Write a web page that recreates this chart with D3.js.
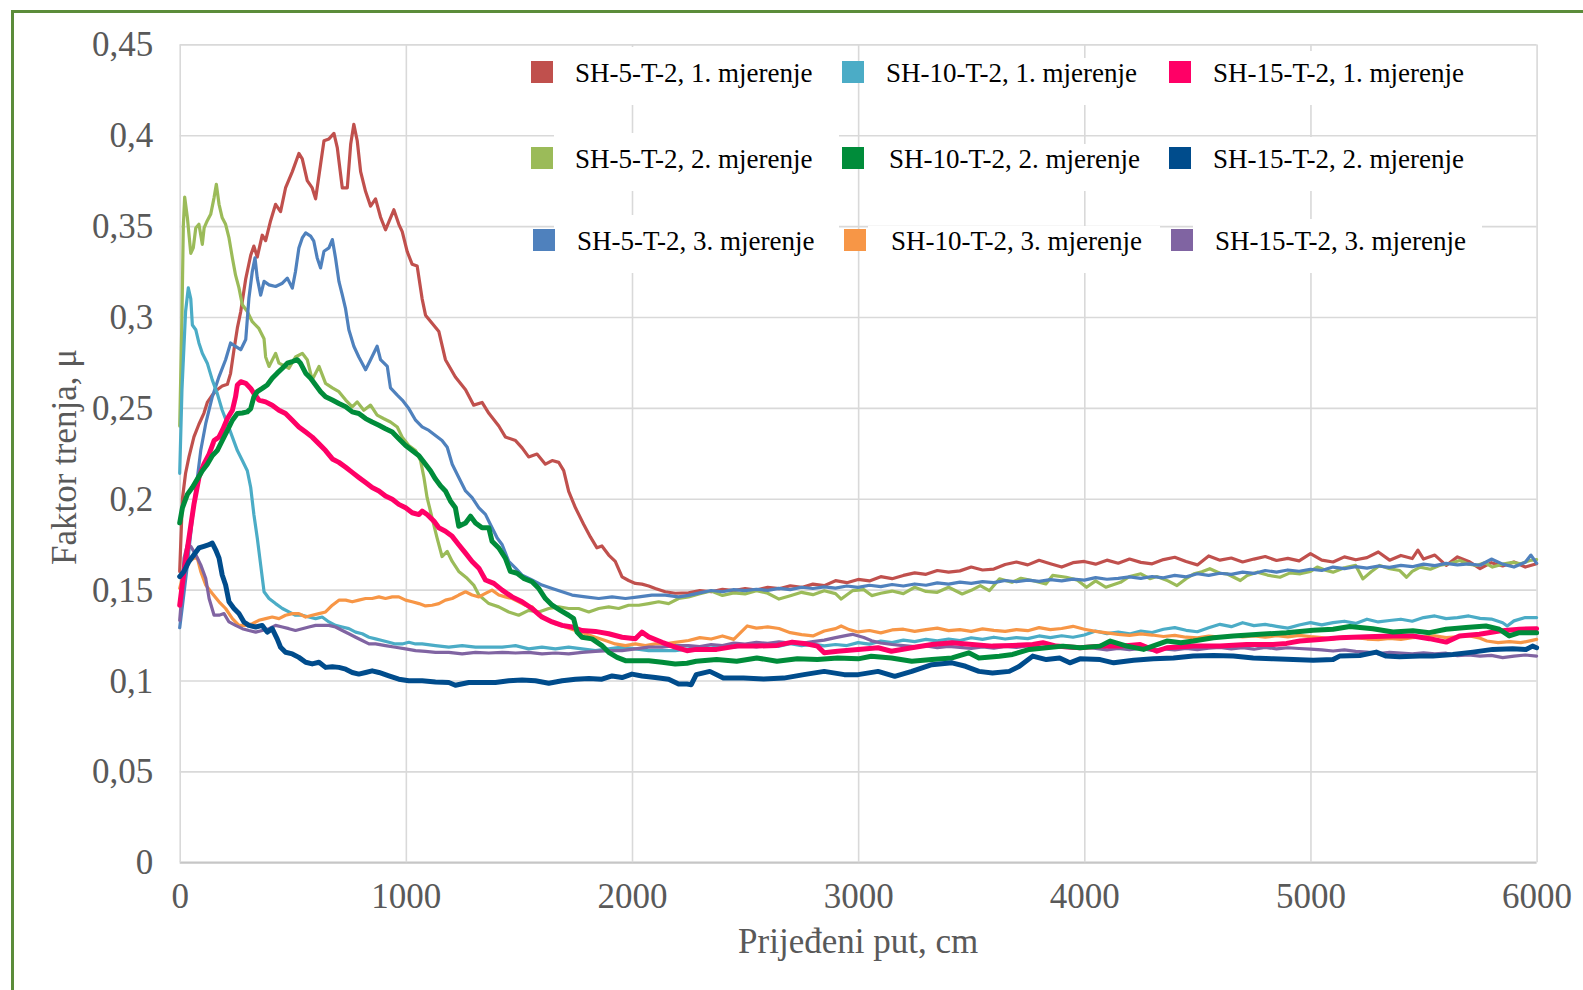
<!DOCTYPE html>
<html>
<head>
<meta charset="utf-8">
<script src="https://cdn.jsdelivr.net/npm/d3@7"></script>
<style>
  html, body { margin: 0; padding: 0; background: #ffffff; }
  svg { display: block; }
</style>
</head>
<body>
<svg id="chart" width="1583" height="990"></svg>
<script>
// ---------- DATA (distance in cm, friction factor µ) ----------
const xTicks = [0, 1000, 2000, 3000, 4000, 5000, 6000];
const yTicks = [0, 0.05, 0.1, 0.15, 0.2, 0.25, 0.3, 0.35, 0.4, 0.45];
const xTitle = "Prijeđeni put, cm";
const yTitle = "Faktor trenja, μ";

const sh5_1 = [[0,0.160],[12,0.200],[26,0.214],[41,0.223],[63,0.234],[85,0.241],[107,0.247],[122,0.253],[144,0.257],[166,0.260],[188,0.262],[211,0.263],[225,0.269],[240,0.282],[255,0.294],[270,0.303],[292,0.321],[314,0.334],[328,0.339],[343,0.333],[365,0.345],[380,0.342],[402,0.353],[424,0.362],[446,0.358],[468,0.371],[498,0.380],[527,0.390],[542,0.387],[564,0.375],[586,0.371],[601,0.365],[623,0.384],[638,0.397],[660,0.398],[682,0.401],[697,0.393],[719,0.371],[741,0.371],[756,0.395],[770,0.406],[785,0.397],[800,0.380],[822,0.369],[844,0.361],[866,0.365],[888,0.355],[910,0.348],[947,0.359],[969,0.351],[984,0.347],[1006,0.336],[1028,0.329],[1050,0.328],[1072,0.310],[1087,0.301],[1116,0.2965],[1146,0.292],[1175,0.2765],[1219,0.267],[1264,0.260],[1300,0.2515],[1337,0.253],[1367,0.247],[1411,0.240],[1440,0.234],[1485,0.232],[1514,0.228],[1543,0.223],[1580,0.2246],[1617,0.219],[1647,0.221],[1676,0.220],[1698,0.2155],[1720,0.204],[1750,0.195],[1786,0.186],[1816,0.179],[1845,0.173],[1867,0.174],[1897,0.169],[1926,0.1655],[1956,0.157],[1985,0.155],[2015,0.1534],[2044,0.153],[2074,0.152],[2103,0.1506],[2147,0.1488],[2191,0.148],[2250,0.1482],[2300,0.1495],[2350,0.1488],[2400,0.1502],[2450,0.1494],[2500,0.1506],[2550,0.1498],[2600,0.1512],[2650,0.1505],[2700,0.1521],[2750,0.1512],[2800,0.1530],[2850,0.1522],[2900,0.1549],[2950,0.1538],[3000,0.1556],[3050,0.1548],[3100,0.1571],[3150,0.1560],[3200,0.1578],[3250,0.1592],[3300,0.1584],[3350,0.1605],[3400,0.1596],[3450,0.1603],[3500,0.1624],[3550,0.1608],[3600,0.1613],[3650,0.1638],[3700,0.1652],[3750,0.1636],[3800,0.1661],[3850,0.1642],[3900,0.1624],[3950,0.1648],[4000,0.1655],[4050,0.1640],[4100,0.1662],[4150,0.1645],[4200,0.1668],[4250,0.1650],[4300,0.1642],[4350,0.1665],[4400,0.1678],[4450,0.1655],[4500,0.1636],[4550,0.1685],[4600,0.1662],[4650,0.1674],[4700,0.1652],[4750,0.1668],[4800,0.1682],[4850,0.1660],[4900,0.1672],[4950,0.1658],[5000,0.1698],[5050,0.1662],[5100,0.1652],[5150,0.1680],[5200,0.1664],[5250,0.1676],[5300,0.1707],[5350,0.1662],[5400,0.1688],[5450,0.1671],[5475,0.1717],[5500,0.1668],[5550,0.1690],[5600,0.1633],[5650,0.1680],[5700,0.1655],[5750,0.1615],[5800,0.1648],[5850,0.1630],[5900,0.1652],[5950,0.1624],[6000,0.1642]];

const sh5_2 = [[0,0.240],[10,0.300],[16,0.350],[22,0.366],[34,0.3546],[49,0.335],[60,0.338],[71,0.349],[85,0.351],[100,0.340],[108,0.349],[122,0.353],[137,0.3565],[152,0.3657],[162,0.373],[174,0.362],[188,0.3546],[203,0.351],[218,0.3435],[233,0.3325],[247,0.323],[262,0.316],[277,0.3067],[299,0.303],[321,0.2974],[350,0.2937],[373,0.288],[380,0.278],[395,0.2728],[424,0.280],[439,0.2746],[483,0.2718],[512,0.278],[542,0.280],[564,0.2765],[586,0.2654],[616,0.2728],[645,0.2635],[675,0.261],[704,0.2589],[734,0.2543],[763,0.2506],[785,0.2533],[814,0.2487],[844,0.2515],[873,0.246],[903,0.244],[932,0.2422],[962,0.2395],[984,0.2339],[1013,0.2293],[1043,0.2265],[1065,0.221],[1080,0.2117],[1094,0.2006],[1116,0.1895],[1138,0.1784],[1160,0.1682],[1183,0.171],[1205,0.1655],[1234,0.160],[1271,0.1562],[1300,0.1525],[1323,0.147],[1367,0.1423],[1411,0.1405],[1455,0.1377],[1499,0.1359],[1543,0.1386],[1588,0.1377],[1632,0.1396],[1676,0.1405],[1720,0.1396],[1764,0.1396],[1809,0.1377],[1853,0.1396],[1897,0.1405],[1941,0.1396],[1985,0.1414],[2030,0.1414],[2074,0.1423],[2118,0.1433],[2162,0.1423],[2206,0.1451],[2250,0.1460],[2300,0.1478],[2350,0.1492],[2400,0.1468],[2450,0.1482],[2500,0.1476],[2550,0.1494],[2600,0.1480],[2650,0.1448],[2700,0.1466],[2750,0.1485],[2800,0.1472],[2850,0.1494],[2900,0.1478],[2925,0.1448],[2975,0.1494],[3025,0.1500],[3060,0.1467],[3100,0.1480],[3150,0.1492],[3200,0.1478],[3250,0.1513],[3300,0.1490],[3350,0.1485],[3400,0.1513],[3460,0.1476],[3500,0.1496],[3540,0.1522],[3580,0.1494],[3625,0.1559],[3680,0.1540],[3720,0.1562],[3770,0.1550],[3830,0.1531],[3860,0.1578],[3920,0.1568],[3970,0.1552],[4010,0.1513],[4050,0.1548],[4095,0.1513],[4160,0.1540],[4200,0.1572],[4250,0.1587],[4290,0.1560],[4320,0.1572],[4370,0.1548],[4410,0.1522],[4450,0.1560],[4485,0.1587],[4520,0.1598],[4555,0.1615],[4600,0.1590],[4630,0.1587],[4690,0.1550],[4720,0.1578],[4765,0.1596],[4810,0.1580],[4865,0.1568],[4910,0.1592],[4955,0.1587],[5000,0.1600],[5030,0.1624],[5070,0.1605],[5100,0.1596],[5150,0.1620],[5200,0.1633],[5232,0.1559],[5270,0.1600],[5306,0.1633],[5350,0.1615],[5395,0.1605],[5425,0.1568],[5450,0.1600],[5485,0.1624],[5530,0.1612],[5570,0.1633],[5620,0.1645],[5660,0.1660],[5700,0.1640],[5735,0.1633],[5770,0.1648],[5805,0.1624],[5850,0.1640],[5895,0.1650],[5930,0.1642],[5970,0.1660],[6000,0.1665]];

const sh5_3 = [[0,0.129],[12,0.141],[34,0.1636],[56,0.1895],[71,0.2043],[93,0.2265],[115,0.2413],[144,0.256],[174,0.2672],[203,0.2765],[225,0.2857],[247,0.2838],[270,0.282],[292,0.2876],[306,0.3103],[321,0.325],[333,0.3325],[343,0.3214],[358,0.312],[373,0.3196],[395,0.3177],[424,0.3168],[454,0.3186],[476,0.3214],[498,0.3159],[512,0.325],[527,0.338],[542,0.3435],[557,0.3463],[579,0.3445],[593,0.3417],[608,0.3325],[623,0.327],[638,0.3362],[660,0.338],[675,0.3426],[689,0.3325],[704,0.3196],[719,0.3122],[733,0.3048],[748,0.293],[770,0.2839],[792,0.278],[822,0.271],[844,0.2765],[873,0.2839],[888,0.2765],[918,0.2728],[932,0.261],[962,0.257],[984,0.2543],[1013,0.2496],[1043,0.2432],[1072,0.2395],[1102,0.2376],[1131,0.2348],[1160,0.232],[1183,0.2283],[1205,0.219],[1234,0.2117],[1264,0.2043],[1293,0.2006],[1323,0.195],[1352,0.1914],[1374,0.1858],[1404,0.1784],[1426,0.1747],[1455,0.1655],[1485,0.1618],[1514,0.158],[1558,0.1553],[1602,0.1525],[1647,0.1506],[1691,0.1488],[1735,0.147],[1794,0.146],[1853,0.1451],[1912,0.146],[1971,0.1451],[2030,0.146],[2088,0.147],[2147,0.147],[2206,0.146],[2250,0.1468],[2300,0.1482],[2350,0.1495],[2400,0.1488],[2450,0.1500],[2500,0.1494],[2550,0.1502],[2600,0.1496],[2650,0.1507],[2700,0.1500],[2750,0.1513],[2800,0.1506],[2850,0.1515],[2900,0.1508],[2950,0.1520],[3000,0.1512],[3050,0.1524],[3100,0.1516],[3150,0.1528],[3200,0.1520],[3250,0.1531],[3300,0.1524],[3350,0.1537],[3400,0.1530],[3450,0.1541],[3500,0.1534],[3550,0.1544],[3600,0.1538],[3650,0.1550],[3700,0.1543],[3750,0.1552],[3800,0.1545],[3850,0.1555],[3900,0.1548],[3950,0.1558],[4000,0.1552],[4050,0.1566],[4100,0.1557],[4150,0.1562],[4200,0.1570],[4250,0.1562],[4300,0.1572],[4350,0.1565],[4400,0.1578],[4450,0.1570],[4500,0.1587],[4550,0.1578],[4600,0.1590],[4650,0.1584],[4700,0.1596],[4750,0.1589],[4800,0.1605],[4850,0.1596],[4900,0.1608],[4950,0.1601],[5000,0.1612],[5050,0.1605],[5100,0.1624],[5150,0.1615],[5200,0.1626],[5250,0.1618],[5300,0.1630],[5350,0.1622],[5400,0.1633],[5450,0.1626],[5500,0.1640],[5550,0.1632],[5600,0.1644],[5650,0.1636],[5700,0.1642],[5750,0.1634],[5800,0.1668],[5850,0.1640],[5900,0.1624],[5950,0.1650],[5975,0.1690],[6000,0.1645]];

const sh10_1 = [[0,0.214],[10,0.260],[26,0.303],[38,0.316],[49,0.310],[56,0.2956],[71,0.293],[85,0.2857],[100,0.280],[122,0.2746],[144,0.2654],[166,0.258],[188,0.2487],[211,0.2413],[233,0.2339],[255,0.2265],[277,0.221],[299,0.2154],[314,0.2062],[328,0.1913],[343,0.1784],[358,0.1636],[373,0.1488],[395,0.1451],[424,0.1423],[454,0.1396],[483,0.1377],[512,0.1359],[542,0.1359],[571,0.1349],[601,0.134],[630,0.1349],[660,0.1322],[689,0.1303],[719,0.1294],[748,0.1285],[778,0.1266],[807,0.1257],[837,0.1238],[866,0.1229],[895,0.122],[925,0.121],[954,0.1201],[984,0.1201],[1013,0.121],[1043,0.1201],[1072,0.1201],[1131,0.1192],[1190,0.1183],[1249,0.1192],[1308,0.1183],[1367,0.1183],[1426,0.1183],[1485,0.1192],[1543,0.1174],[1602,0.1183],[1661,0.1174],[1720,0.1183],[1779,0.1174],[1838,0.1164],[1897,0.1174],[1956,0.1183],[2015,0.1174],[2074,0.1164],[2133,0.1164],[2191,0.1164],[2250,0.1174],[2300,0.1186],[2350,0.1178],[2400,0.1192],[2450,0.1182],[2500,0.1194],[2550,0.1185],[2600,0.1198],[2650,0.1188],[2700,0.1202],[2750,0.1192],[2800,0.1200],[2850,0.1190],[2900,0.1198],[2950,0.1192],[3000,0.1208],[3050,0.1200],[3100,0.1217],[3150,0.1208],[3200,0.1222],[3250,0.1214],[3300,0.1226],[3350,0.1218],[3400,0.1228],[3450,0.1220],[3500,0.1235],[3550,0.1226],[3600,0.1238],[3650,0.1228],[3700,0.1236],[3750,0.1230],[3800,0.1245],[3850,0.1236],[3900,0.1246],[3950,0.1238],[4000,0.1250],[4050,0.1272],[4100,0.1258],[4150,0.1266],[4200,0.1256],[4250,0.1272],[4300,0.1264],[4350,0.1282],[4400,0.1291],[4450,0.1276],[4500,0.1268],[4550,0.1290],[4600,0.1309],[4650,0.1296],[4700,0.1318],[4750,0.1302],[4800,0.1309],[4850,0.1298],[4900,0.1288],[4950,0.1305],[5000,0.1318],[5050,0.1306],[5100,0.1318],[5150,0.1326],[5200,0.1314],[5250,0.1337],[5300,0.1322],[5350,0.1330],[5400,0.1337],[5450,0.1326],[5500,0.1346],[5550,0.1355],[5600,0.1340],[5650,0.1346],[5700,0.1355],[5750,0.1342],[5800,0.1338],[5850,0.1318],[5870,0.1300],[5900,0.1328],[5950,0.1346],[6000,0.1346]];

const sh10_2 = [[0,0.1867],[12,0.195],[34,0.2024],[56,0.2062],[78,0.2108],[100,0.2154],[122,0.219],[144,0.2237],[166,0.2265],[188,0.232],[211,0.2376],[233,0.2432],[255,0.2469],[277,0.2472],[299,0.2478],[314,0.2496],[328,0.2561],[343,0.2589],[365,0.2607],[387,0.2626],[409,0.2663],[431,0.2691],[454,0.2718],[476,0.2746],[498,0.2755],[520,0.2765],[534,0.2746],[557,0.2691],[579,0.2663],[601,0.2626],[623,0.2589],[645,0.2561],[675,0.2543],[704,0.2524],[734,0.2506],[763,0.2478],[792,0.2469],[822,0.2441],[851,0.2422],[881,0.2404],[910,0.2385],[940,0.2367],[969,0.233],[999,0.2293],[1028,0.2265],[1058,0.2237],[1087,0.219],[1109,0.2154],[1131,0.2108],[1153,0.2071],[1175,0.2043],[1197,0.1988],[1219,0.195],[1234,0.1849],[1264,0.1867],[1286,0.1904],[1308,0.1867],[1337,0.184],[1367,0.184],[1381,0.1766],[1411,0.1729],[1440,0.1673],[1462,0.160],[1492,0.159],[1521,0.1562],[1558,0.1543],[1588,0.1506],[1617,0.1451],[1647,0.1414],[1683,0.1386],[1720,0.1359],[1742,0.134],[1757,0.1266],[1779,0.1238],[1823,0.1229],[1867,0.1192],[1897,0.1155],[1934,0.1127],[1971,0.1109],[2015,0.1109],[2074,0.1109],[2133,0.110],[2191,0.1091],[2243,0.1095],[2284,0.1106],[2374,0.1115],[2463,0.1106],[2552,0.1124],[2641,0.1106],[2731,0.1119],[2820,0.1115],[2909,0.1124],[3000,0.1119],[3058,0.1133],[3147,0.1124],[3237,0.1106],[3326,0.1115],[3415,0.1124],[3489,0.1152],[3534,0.1124],[3624,0.1133],[3683,0.1143],[3757,0.1171],[3832,0.118],[3906,0.1189],[3981,0.118],[4070,0.1189],[4115,0.1217],[4188,0.1189],[4262,0.1171],[4365,0.1217],[4427,0.1208],[4482,0.1217],[4571,0.1235],[4659,0.1245],[4776,0.1254],[4894,0.1263],[5012,0.1276],[5100,0.1282],[5174,0.1297],[5276,0.1285],[5365,0.1267],[5453,0.1273],[5526,0.1263],[5600,0.1282],[5688,0.1291],[5776,0.130],[5835,0.1282],[5879,0.1245],[5924,0.1263],[6000,0.1263]];

const sh10_3 = [[0,0.1507],[19,0.160],[41,0.1655],[63,0.1673],[78,0.1673],[93,0.160],[115,0.1525],[144,0.1479],[174,0.1433],[203,0.1396],[233,0.134],[262,0.1303],[292,0.1303],[321,0.1312],[350,0.1331],[380,0.134],[409,0.1349],[439,0.134],[468,0.1359],[498,0.1368],[527,0.1368],[557,0.1349],[586,0.1359],[616,0.1368],[645,0.1377],[675,0.1414],[704,0.1442],[734,0.1442],[763,0.1433],[792,0.1442],[822,0.1451],[851,0.1451],[881,0.146],[910,0.1451],[940,0.146],[969,0.146],[999,0.1442],[1028,0.1433],[1058,0.1423],[1087,0.141],[1116,0.1414],[1146,0.1423],[1175,0.1442],[1205,0.1451],[1234,0.147],[1264,0.1488],[1293,0.147],[1323,0.146],[1352,0.1479],[1381,0.1497],[1411,0.147],[1440,0.146],[1470,0.1451],[1499,0.1433],[1529,0.1414],[1558,0.1405],[1588,0.1359],[1617,0.134],[1661,0.1312],[1705,0.1294],[1750,0.1275],[1794,0.1257],[1838,0.1238],[1882,0.122],[1926,0.1201],[1971,0.1192],[2015,0.1201],[2059,0.1192],[2103,0.1201],[2147,0.1201],[2191,0.121],[2250,0.1220],[2300,0.1236],[2350,0.1228],[2400,0.1245],[2450,0.1226],[2480,0.1263],[2510,0.1300],[2550,0.1288],[2600,0.1295],[2650,0.1286],[2700,0.1263],[2750,0.1252],[2800,0.1245],[2850,0.1272],[2900,0.1285],[2925,0.1300],[2960,0.1280],[3000,0.1267],[3050,0.1275],[3100,0.1262],[3150,0.1278],[3200,0.1282],[3250,0.1270],[3300,0.1280],[3350,0.1288],[3400,0.1274],[3450,0.1280],[3500,0.1270],[3550,0.1284],[3600,0.1276],[3650,0.1270],[3700,0.1280],[3750,0.1274],[3800,0.1291],[3850,0.1280],[3900,0.1286],[3950,0.1298],[4000,0.1282],[4050,0.1270],[4100,0.1262],[4150,0.1254],[4200,0.1248],[4250,0.1256],[4300,0.1250],[4350,0.1242],[4400,0.1248],[4450,0.1238],[4500,0.1235],[4550,0.1244],[4600,0.1238],[4650,0.1246],[4700,0.1240],[4750,0.1245],[4800,0.1238],[4850,0.1246],[4900,0.1240],[4950,0.1248],[5000,0.1241],[5050,0.1236],[5100,0.1228],[5150,0.1240],[5200,0.1235],[5250,0.1228],[5300,0.1224],[5350,0.1232],[5400,0.1226],[5450,0.1236],[5500,0.1240],[5550,0.1246],[5600,0.1236],[5650,0.1240],[5700,0.1246],[5750,0.1232],[5780,0.1217],[5830,0.1208],[5880,0.1214],[5930,0.1208],[5970,0.1218],[6000,0.1226]];

const sh15_1 = [[0,0.1414],[19,0.160],[41,0.1784],[63,0.1969],[85,0.2117],[107,0.219],[130,0.2246],[152,0.232],[174,0.234],[190,0.238],[211,0.2441],[233,0.2487],[247,0.2561],[255,0.2626],[270,0.2644],[292,0.2635],[314,0.2607],[328,0.258],[350,0.2543],[380,0.2533],[409,0.2515],[439,0.2487],[468,0.2469],[498,0.2432],[527,0.2395],[557,0.2367],[586,0.2339],[616,0.2302],[645,0.2265],[675,0.2219],[704,0.220],[734,0.2173],[763,0.2145],[792,0.2117],[822,0.2089],[851,0.2062],[881,0.2043],[910,0.2015],[940,0.1997],[969,0.1969],[999,0.195],[1028,0.1923],[1058,0.1913],[1072,0.1932],[1094,0.1913],[1124,0.1877],[1146,0.184],[1175,0.1821],[1205,0.1793],[1234,0.1747],[1264,0.1701],[1293,0.1655],[1323,0.1618],[1352,0.1553],[1389,0.1534],[1426,0.1497],[1470,0.146],[1514,0.1433],[1558,0.1396],[1602,0.1349],[1647,0.1322],[1691,0.1303],[1735,0.1294],[1779,0.1275],[1838,0.127],[1897,0.1257],[1956,0.1238],[2015,0.1229],[2044,0.1266],[2074,0.124],[2133,0.121],[2191,0.1183],[2243,0.1164],[2284,0.1171],[2374,0.1171],[2463,0.1189],[2552,0.1189],[2641,0.1193],[2708,0.1211],[2760,0.1204],[2820,0.1189],[2850,0.1152],[2909,0.1161],[3000,0.1171],[3088,0.118],[3147,0.1161],[3237,0.118],[3326,0.1198],[3415,0.1208],[3504,0.1198],[3594,0.1189],[3683,0.1193],[3772,0.1198],[3817,0.1208],[3876,0.1189],[3981,0.118],[4070,0.1189],[4159,0.1189],[4247,0.1198],[4321,0.1161],[4365,0.118],[4482,0.1189],[4600,0.1189],[4718,0.1198],[4835,0.1198],[4894,0.1204],[4953,0.1217],[5041,0.1226],[5129,0.1235],[5247,0.1241],[5365,0.1245],[5453,0.1245],[5526,0.123],[5600,0.1211],[5659,0.1245],[5747,0.1254],[5835,0.1272],[5924,0.1282],[6000,0.1285]];

const sh15_2 = [[0,0.1572],[19,0.160],[41,0.1655],[63,0.1692],[85,0.1729],[107,0.1738],[130,0.1747],[144,0.1756],[159,0.1719],[174,0.1673],[188,0.158],[203,0.1525],[218,0.1433],[240,0.1396],[262,0.1368],[284,0.1322],[306,0.1303],[336,0.1294],[365,0.1303],[387,0.1266],[409,0.1285],[431,0.1229],[446,0.1183],[468,0.1155],[498,0.1146],[527,0.1127],[557,0.110],[586,0.1091],[616,0.110],[645,0.1072],[675,0.1076],[704,0.1072],[734,0.1062],[763,0.1044],[792,0.1035],[822,0.1044],[851,0.1053],[881,0.1044],[925,0.1025],[969,0.1007],[1013,0.0998],[1072,0.0998],[1131,0.0992],[1190,0.0989],[1219,0.0974],[1278,0.0989],[1337,0.0989],[1396,0.0989],[1455,0.0998],[1514,0.1003],[1573,0.0998],[1632,0.0985],[1691,0.0998],[1750,0.1007],[1809,0.1011],[1867,0.1007],[1912,0.1025],[1956,0.1016],[2000,0.1035],[2044,0.1025],[2103,0.1016],[2162,0.1007],[2206,0.098],[2243,0.098],[2262,0.0977],[2284,0.1032],[2344,0.105],[2404,0.1013],[2493,0.1013],[2582,0.1008],[2671,0.1013],[2760,0.1032],[2850,0.105],[2939,0.1032],[3000,0.1032],[3088,0.105],[3162,0.1023],[3237,0.105],[3326,0.1087],[3415,0.1097],[3475,0.1078],[3534,0.105],[3594,0.1041],[3668,0.105],[3713,0.1078],[3772,0.1134],[3832,0.1115],[3891,0.1124],[3936,0.1097],[3981,0.1119],[4070,0.1115],[4130,0.1097],[4218,0.1111],[4306,0.1119],[4394,0.1124],[4482,0.1134],[4571,0.1137],[4659,0.1134],[4747,0.1124],[4835,0.1119],[4924,0.1115],[5012,0.1111],[5100,0.1115],[5129,0.1134],[5218,0.1137],[5291,0.1156],[5335,0.1134],[5394,0.1130],[5482,0.1134],[5541,0.1134],[5629,0.1143],[5718,0.1156],[5806,0.1171],[5894,0.1174],[5953,0.1171],[5982,0.1189],[6000,0.118]];

const sh15_3 = [[0,0.133],[8,0.1451],[19,0.1673],[34,0.1747],[49,0.1738],[71,0.1692],[93,0.1636],[115,0.1562],[130,0.1451],[152,0.1359],[174,0.1359],[196,0.1368],[218,0.1322],[247,0.1303],[277,0.1285],[306,0.1275],[336,0.1266],[365,0.1275],[395,0.1285],[424,0.1303],[454,0.1294],[483,0.1285],[512,0.1275],[542,0.1285],[571,0.1294],[601,0.1303],[630,0.1303],[660,0.1303],[689,0.1294],[719,0.1275],[748,0.1257],[778,0.1238],[807,0.122],[837,0.1201],[866,0.1201],[910,0.1192],[954,0.1183],[999,0.1174],[1043,0.1164],[1087,0.116],[1131,0.1155],[1190,0.1155],[1249,0.1146],[1308,0.1155],[1367,0.1151],[1426,0.1155],[1485,0.1151],[1543,0.1155],[1602,0.1146],[1661,0.1151],[1720,0.1146],[1779,0.1155],[1838,0.116],[1897,0.1164],[1956,0.1164],[2015,0.1174],[2074,0.1183],[2133,0.1183],[2191,0.1192],[2250,0.1192],[2300,0.1186],[2350,0.1198],[2400,0.1192],[2450,0.1206],[2500,0.1200],[2550,0.1210],[2600,0.1204],[2650,0.1212],[2700,0.1206],[2750,0.1204],[2800,0.1214],[2850,0.1222],[2900,0.1236],[2950,0.1248],[2975,0.1254],[3025,0.1236],[3060,0.1218],[3100,0.1206],[3150,0.1198],[3200,0.1192],[3250,0.1186],[3300,0.1190],[3350,0.1180],[3400,0.1188],[3450,0.1182],[3500,0.1176],[3550,0.1184],[3600,0.1178],[3650,0.1188],[3700,0.1182],[3750,0.1190],[3800,0.1180],[3850,0.1188],[3900,0.1182],[3950,0.1178],[4000,0.1184],[4050,0.1176],[4100,0.1168],[4150,0.1176],[4200,0.1170],[4250,0.1176],[4300,0.1166],[4350,0.1174],[4400,0.1168],[4450,0.1176],[4500,0.1170],[4550,0.1178],[4600,0.1182],[4650,0.1174],[4700,0.1180],[4750,0.1172],[4800,0.1182],[4850,0.1174],[4900,0.1180],[4950,0.1176],[5000,0.1172],[5050,0.1168],[5100,0.1162],[5150,0.1168],[5200,0.1160],[5250,0.1156],[5300,0.1148],[5350,0.1155],[5400,0.1150],[5450,0.1146],[5500,0.1152],[5550,0.1146],[5600,0.1150],[5650,0.1136],[5700,0.1140],[5750,0.1134],[5800,0.1138],[5850,0.1126],[5900,0.1134],[5950,0.1140],[6000,0.1134]];

// legend order (row-major, 3 columns)
const seriesNames = [
  "SH-5-T-2, 1. mjerenje", "SH-10-T-2, 1. mjerenje", "SH-15-T-2, 1. mjerenje",
  "SH-5-T-2, 2. mjerenje", "SH-10-T-2, 2. mjerenje", "SH-15-T-2, 2. mjerenje",
  "SH-5-T-2, 3. mjerenje", "SH-10-T-2, 3. mjerenje", "SH-15-T-2, 3. mjerenje"
];
const seriesData = [sh5_1, sh10_1, sh15_1, sh5_2, sh10_2, sh15_2, sh5_3, sh10_3, sh15_3];
const seriesColors = ["#C0504D", "#4BACC6", "#FF0066", "#9BBB59", "#008C3A", "#004C8C", "#4F81BD", "#F79646", "#8064A2"];
const seriesWidths = [3.2, 3.2, 5, 3.2, 5, 5, 3.2, 3.2, 3.2];
// drawing order (indices into the arrays above)
const drawOrder = [0, 3, 6, 1, 7, 8, 2, 4, 5];

// ---------- LAYOUT ----------
const svg = d3.select("#chart");
const W = 1583, H = 990;
const plot = { left: 179.7, right: 1536.6, top: 44.4, bottom: 862.2 };
const serif = "'Liberation Serif', 'Times New Roman', Times, serif";
const gridColor = "#d9d9d9";
const labelColor = "#595959";

svg.append("rect").attr("x", 0).attr("y", 0).attr("width", W).attr("height", H).attr("fill", "#ffffff");

// outer green frame (only top and left edges visible)
svg.append("path")
  .attr("d", `M12.5,${H + 5} L12.5,11.5 L${W + 5},11.5`)
  .attr("fill", "none").attr("stroke", "#5B8C3A").attr("stroke-width", 3);

const x = d3.scaleLinear().domain([0, 6000]).range([plot.left, plot.right]);
const y = d3.scaleLinear().domain([0, 0.45]).range([plot.bottom, plot.top]);

const locale = d3.formatLocale({ decimal: ",", thousands: "", grouping: [3], currency: ["", ""] });
const fmtY = locale.format("~g");
const fmtX = d3.format("d");

// horizontal gridlines + y labels
const gy = svg.append("g").attr("transform", `translate(${plot.left},0)`)
  .call(d3.axisLeft(y).tickValues(yTicks).tickFormat(fmtY)
    .tickSize(-(plot.right - plot.left)).tickPadding(26.5));
gy.select(".domain").remove();
gy.selectAll(".tick line").attr("stroke", gridColor).attr("stroke-width", 1.6);
gy.selectAll(".tick").filter(d => d === 0).select("line").attr("stroke", "#c6c6c6").attr("stroke-width", 2.2);
gy.selectAll(".tick text").attr("font-family", serif).attr("font-size", 35).attr("fill", labelColor).attr("dy", "0.33em");

// vertical gridlines + x labels
const gx = svg.append("g").attr("transform", `translate(0,${plot.bottom})`)
  .call(d3.axisBottom(x).tickValues(xTicks).tickFormat(fmtX)
    .tickSize(-(plot.bottom - plot.top)));
gx.select(".domain").remove();
gx.selectAll(".tick line").attr("stroke", gridColor).attr("stroke-width", 1.6);
gx.selectAll(".tick text").attr("font-family", serif).attr("font-size", 35).attr("fill", labelColor)
  .attr("y", 908 - plot.bottom).attr("dy", 0);

// axis titles
svg.append("text").attr("x", (plot.left + plot.right) / 2).attr("y", 953)
  .attr("text-anchor", "middle").attr("font-family", serif).attr("font-size", 35).attr("fill", labelColor)
  .text(xTitle);
svg.append("text").attr("transform", `translate(76,457) rotate(-90)`)
  .attr("text-anchor", "middle").attr("font-family", serif).attr("font-size", 35).attr("fill", labelColor)
  .text(yTitle);

// legend layout
const legColX = [531, 842, 1169];       // marker left per column
const legRowY = [72, 158, 240];         // marker centre per row
const legBox = [[554, 839], [868, 1160], [1193, 1482]];
const legBoxTop = [25, 14, 21];
const legend = svg.append("g");
seriesNames.forEach((name, i) => {
  const c = i % 3, r = Math.floor(i / 3);
  legend.append("rect")
    .attr("x", legBox[c][0]).attr("y", legRowY[r] - legBoxTop[c])
    .attr("width", legBox[c][1] - legBox[c][0]).attr("height", legBoxTop[c] + 33)
    .attr("fill", "#ffffff");
});

// series lines
const line = d3.line().x(d => x(d[0])).y(d => y(d[1])).curve(d3.curveLinear);
const lines = svg.append("g");
drawOrder.forEach(i => {
  lines.append("path").datum(seriesData[i])
    .attr("d", line)
    .attr("fill", "none")
    .attr("stroke", seriesColors[i])
    .attr("stroke-width", seriesWidths[i])
    .attr("stroke-linejoin", "round")
    .attr("stroke-linecap", "round");
});

// legend markers & labels
seriesNames.forEach((name, i) => {
  const c = i % 3, r = Math.floor(i / 3);
  const mx = legColX[c] + (r === 2 ? 2 : 0);
  legend.append("rect")
    .attr("x", mx).attr("y", legRowY[r] - 11)
    .attr("width", 22).attr("height", 22)
    .attr("fill", seriesColors[i]);
  legend.append("text")
    .attr("x", mx + 44 + (c === 1 && r > 0 ? 3 : 0)).attr("y", legRowY[r] + 9.5)
    .attr("font-family", serif).attr("font-size", 27).attr("fill", "#000000")
    .text(name);
});
</script>
</body>
</html>
